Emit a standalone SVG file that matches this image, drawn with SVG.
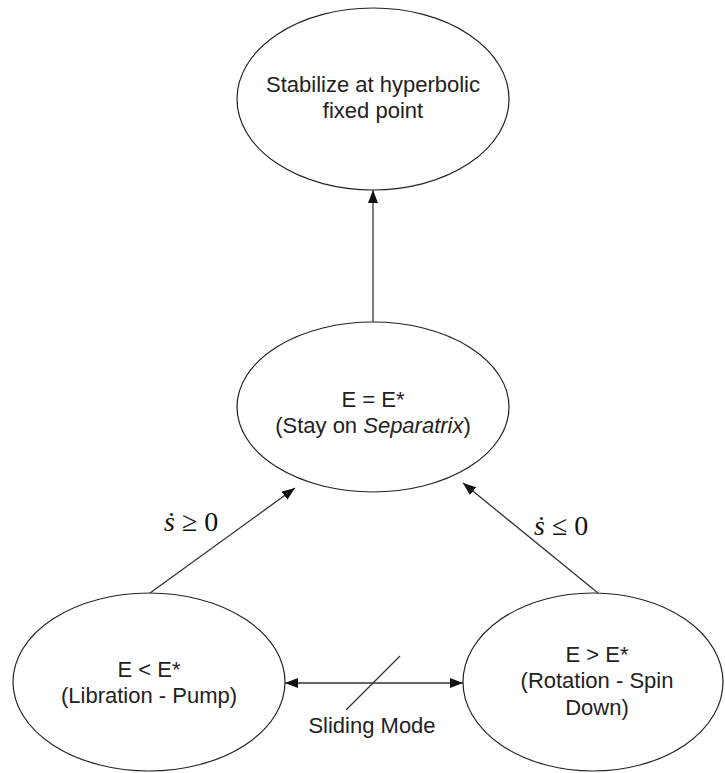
<svg xmlns="http://www.w3.org/2000/svg" width="725" height="773" viewBox="0 0 725 773">
<style>
.node{fill:#fff;stroke:#222;stroke-width:1.2}
.t{font-family:"Liberation Sans",Arial,sans-serif;font-size:22px;fill:#222;text-anchor:middle}
.m{font-family:"Liberation Serif","Times New Roman",serif;font-size:28px;fill:#111}
.c{stroke:#333;stroke-width:1.3;fill:none}
</style>
<defs>
<marker id="ah" viewBox="0 0 13 10" refX="13" refY="5" markerWidth="13" markerHeight="10" markerUnits="userSpaceOnUse" orient="auto-start-reverse">
<path d="M0,0 L13,5 L0,10 Z" fill="#111"/>
</marker>
</defs>
<rect width="725" height="773" fill="#fff"/>
<g id="n-top">
<ellipse class="node" cx="373" cy="99" rx="136" ry="91"/>
<text class="t" x="373" y="92">Stabilize at hyperbolic</text>
<text class="t" x="373" y="118">fixed point</text>
</g>
<g id="n-mid">
<ellipse class="node" cx="373" cy="407" rx="136" ry="85"/>
<text class="t" x="373" y="407">E = E*</text>
<text class="t" x="373" y="433">(Stay on <tspan font-style="italic">Separatrix</tspan>)</text>
</g>
<g id="n-left">
<ellipse class="node" cx="149" cy="682" rx="136" ry="89"/>
<text class="t" x="149" y="677">E &lt; E*</text>
<text class="t" x="149" y="703">(Libration - Pump)</text>
</g>
<g id="n-right">
<ellipse class="node" cx="593" cy="682" rx="130" ry="89"/>
<text class="t" x="597" y="662">E &gt; E*</text>
<text class="t" x="597" y="688">(Rotation - Spin</text>
<text class="t" x="597" y="715">Down)</text>
</g>
<g id="connectors">
<line class="c" x1="373" y1="322" x2="373" y2="190" marker-end="url(#ah)"/>
<line class="c" x1="150" y1="593" x2="295" y2="488" marker-end="url(#ah)"/>
<line class="c" x1="598" y1="593" x2="463" y2="483" marker-end="url(#ah)"/>
<line class="c" x1="285" y1="683" x2="463" y2="683" marker-start="url(#ah)" marker-end="url(#ah)"/>
<line class="c" x1="400" y1="656" x2="346" y2="710"/>
<text class="m" x="164" y="531"><tspan font-style="italic">ṡ</tspan> ≥ 0</text>
<text class="m" x="534" y="535"><tspan font-style="italic">ṡ</tspan> ≤ 0</text>
<text class="t" x="372" y="733">Sliding Mode</text>
</g>
</svg>
